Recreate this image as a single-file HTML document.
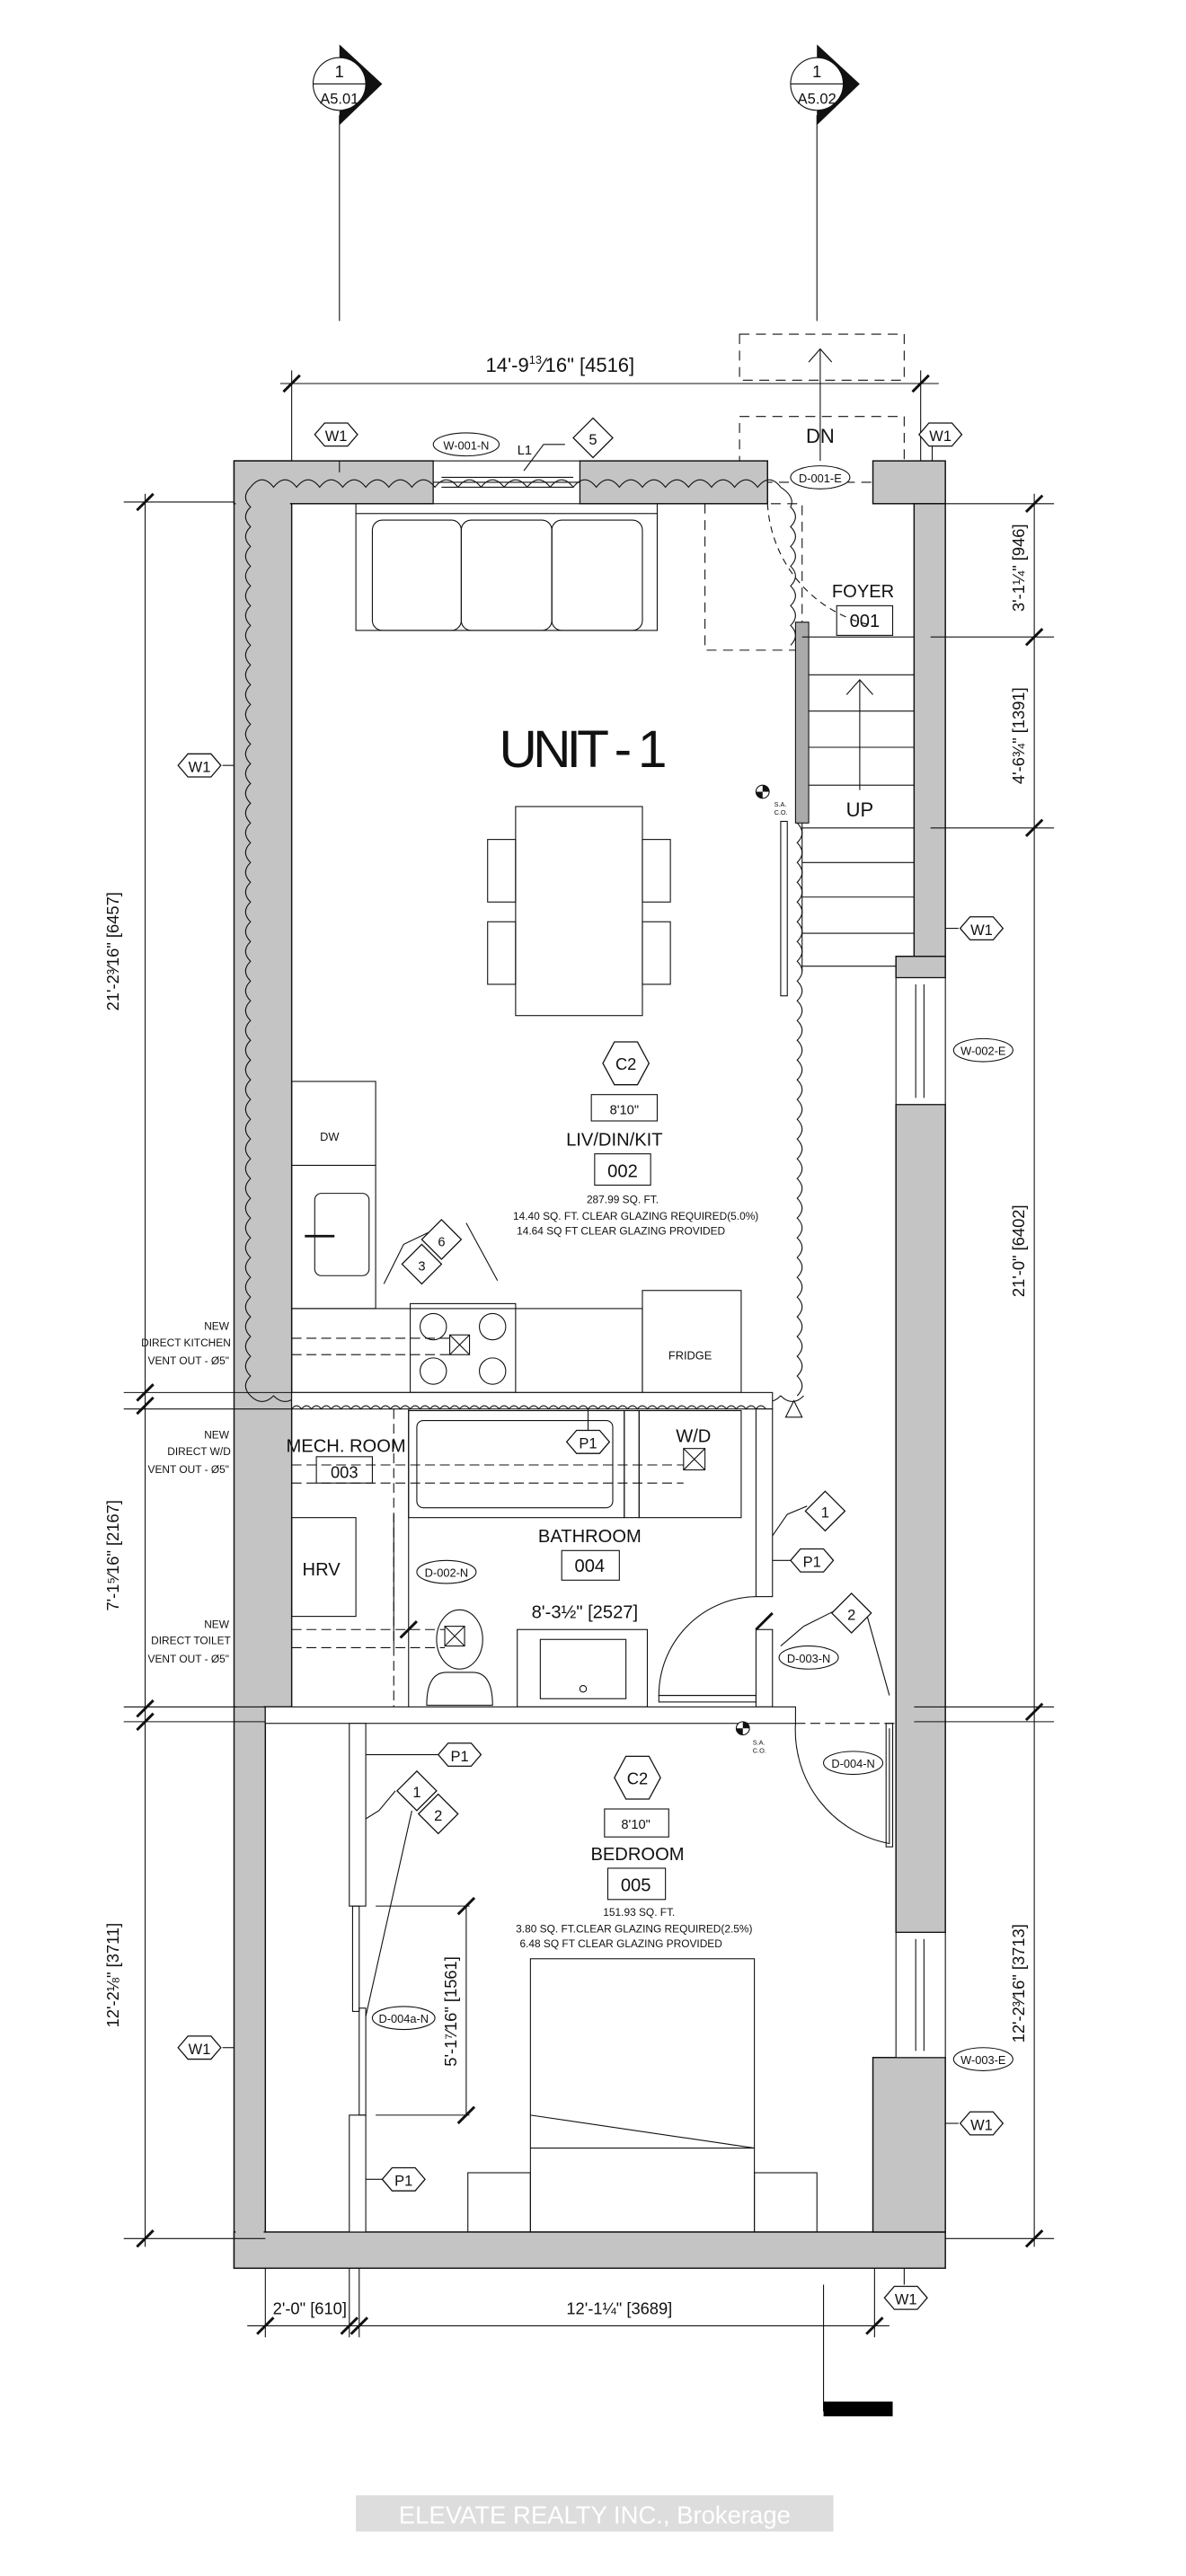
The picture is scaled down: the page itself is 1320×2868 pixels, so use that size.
<!DOCTYPE html>
<html><head><meta charset="utf-8"><style>
html,body{margin:0;padding:0;background:#fff}
svg{display:block}
text{font-family:"Liberation Sans",sans-serif;fill:#111}
</style></head><body>
<svg width="1320" height="2868" viewBox="0 0 720 1565" xmlns="http://www.w3.org/2000/svg">
<defs>
<path id="hex" d="M-13,0 L-7,-7 L7,-7 L13,0 L7,7 L-7,7 Z" fill="#fff" stroke="#111" stroke-width="0.7"/>
<path id="dia" d="M0,-12 L12,0 L0,12 L-12,0 Z" fill="#fff" stroke="#111" stroke-width="0.7"/>
<path id="tk" d="M-5,5 L5,-5" stroke="#111" stroke-width="1.6"/>
</defs>
<rect width="720" height="1565" fill="#fff"/>
<!-- section markers -->
<g stroke="#111" stroke-width="0.6">
<line x1="206" y1="70" x2="206" y2="195"/>
<line x1="496" y1="70" x2="496" y2="195"/>
</g>
<path d="M206,27 L232,51 L206,76 Z" fill="#111"/>
<path d="M496,27 L522,51 L496,76 Z" fill="#111"/>
<circle cx="206" cy="51" r="16" fill="#fff" stroke="#111" stroke-width="0.6"/>
<line x1="190" y1="51" x2="222" y2="51" stroke="#111" stroke-width="0.6"/>
<circle cx="496" cy="51" r="16" fill="#fff" stroke="#111" stroke-width="0.6"/>
<line x1="480" y1="51" x2="512" y2="51" stroke="#111" stroke-width="0.6"/>
<text x="206" y="47" font-size="10" text-anchor="middle">1</text>
<text x="206" y="63" font-size="9" text-anchor="middle">A5.01</text>
<text x="496" y="47" font-size="10" text-anchor="middle">1</text>
<text x="496" y="63" font-size="9" text-anchor="middle">A5.02</text>

<!-- top dimension -->
<g stroke="#111" stroke-width="0.6" fill="none">
<line x1="170" y1="233" x2="570" y2="233"/>
<line x1="177" y1="225" x2="177" y2="300"/>
<line x1="559" y1="225" x2="559" y2="300"/>
<g stroke-dasharray="6,4">
<rect x="449" y="203" width="100" height="28"/>
<rect x="449" y="253" width="100" height="40"/>
<line x1="449" y1="293" x2="449" y2="306"/>
<line x1="549" y1="293" x2="549" y2="306"/>
<rect x="428" y="306" width="59" height="89"/>
</g>
<line x1="498" y1="280" x2="498" y2="212"/>
<polyline points="491,220 498,212 505,220"/>
</g>
<use href="#tk" x="177" y="233"/><use href="#tk" x="559" y="233"/>
<text x="340" y="226" font-size="12" text-anchor="middle">14'-9<tspan font-size="7" dy="-5">13</tspan><tspan dy="5">⁄16" [4516]</tspan></text>
<text x="498" y="269" font-size="12" text-anchor="middle">DN</text>

<!-- walls -->
<g fill="#c4c4c4" stroke="#111" stroke-width="0.8">
<rect x="142" y="280" width="35" height="757"/>
<rect x="142" y="1037" width="19" height="341"/>
<rect x="142" y="280" width="121" height="26"/>
<rect x="352" y="280" width="114" height="26"/>
<rect x="142" y="1356" width="432" height="22"/>
<rect x="530" y="280" width="44" height="26"/>
<rect x="555" y="306" width="19" height="275"/>
<rect x="544" y="581" width="30" height="13"/>
<rect x="544" y="671" width="30" height="503"/>
<rect x="530" y="1250" width="44" height="106"/>
</g>
<rect x="143" y="283" width="33" height="753" fill="#c4c4c4"/>
<rect x="143" y="1036" width="17" height="338" fill="#c4c4c4"/>
<rect x="143" y="1357" width="430" height="20" fill="#c4c4c4"/>
<g stroke="#111" stroke-width="0.6" fill="none">
<rect x="263" y="280" width="89" height="26" fill="#fff"/>
<line x1="263" y1="293" x2="352" y2="293"/><line x1="268" y1="290" x2="348" y2="290"/><line x1="268" y1="296" x2="348" y2="296"/>
<rect x="544" y="594" width="30" height="77" fill="#fff"/>
<line x1="556" y1="598" x2="556" y2="667"/><line x1="561" y1="598" x2="561" y2="667"/>
<rect x="544" y="1174" width="30" height="76" fill="#fff"/>
<line x1="556" y1="1178" x2="556" y2="1246"/><line x1="561" y1="1178" x2="561" y2="1246"/>
<!-- revision cloud -->
<path d="M152,296 q7,-9 14,0 q7,-9 14,0 q7,-9 14,0 q7,-9 14,0 q7,-9 14,0 q7,-9 14,0 q7,-9 14,0 q7,-9 14,0 q7,-9 14,0 q7,-9 14,0 q7,-9 14,0 q7,-9 14,0 q7,-9 14,0 q7,-9 14,0 q7,-9 14,0 q7,-9 14,0 q7,-9 14,0 q7,-9 14,0 q7,-9 14,0 q7,-9 14,0 q7,-9 14,0 q7,-9 14,0 q7,-9 14,0"/>
<path d="M152,296 q-6,6 0,12 q-6,6 0,12 q-6,6 0,12 q-6,6 0,12 q-6,6 0,12 q-6,6 0,12 q-6,6 0,12 q-6,6 0,12 q-6,6 0,12 q-6,6 0,12 q-6,6 0,12 q-6,6 0,12 q-6,6 0,12 q-6,6 0,12 q-6,6 0,12 q-6,6 0,12 q-6,6 0,12 q-6,6 0,12 q-6,6 0,12 q-6,6 0,12 q-6,6 0,12 q-6,6 0,12 q-6,6 0,12 q-6,6 0,12 q-6,6 0,12 q-6,6 0,12 q-6,6 0,12 q-6,6 0,12 q-6,6 0,12 q-6,6 0,12 q-6,6 0,12 q-6,6 0,12 q-6,6 0,12 q-6,6 0,12 q-6,6 0,12 q-6,6 0,12 q-6,6 0,12 q-6,6 0,12 q-6,6 0,12 q-6,6 0,12 q-6,6 0,12 q-6,6 0,12 q-6,6 0,12 q-6,6 0,12 q-6,6 0,12 q-6,6 0,12 q7,7 14,0 q7,7 14,0 q7,7 14,0 q7,7 14,0 q7,7 14,0 q7,7 14,0 q7,7 14,0 q7,7 14,0 q7,7 14,0 q7,7 14,0 q7,7 14,0 q7,7 14,0 q7,7 14,0 q7,7 14,0 q7,7 14,0 q7,7 14,0 q7,7 14,0 q7,7 14,0 q7,7 14,0 q7,7 14,0 q7,7 14,0 q7,7 14,0 q7,7 14,0 q7,7 14,0"/>
<path d="M474,296 q9,6 6,12 q6,6 0,12 q6,6 0,12 q6,6 0,12 q6,6 0,12 q6,6 0,12 q6,6 0,12 q6,6 0,12 M484,500 q6,6 0,12 q6,6 0,12 q6,6 0,12 q6,6 0,12 q6,6 0,12 q6,6 0,12 q6,6 0,12 q6,6 0,12 q6,6 0,12 q6,6 0,12 q6,6 0,12 q6,6 0,12 q6,6 0,12 q6,6 0,12 q6,6 0,12 q6,6 0,12 q6,6 0,12 q6,6 0,12 q6,6 0,12 q6,6 0,12 q6,6 0,12 q6,6 0,12 q6,6 0,12 q6,6 0,12 q6,6 0,12 q6,6 0,12 q6,6 0,12 q6,6 0,12 q6,6 0,12"/>
<path d="M482,851 l5,10 h-10 z"/>
<path d="M466,306 A80,80 0 0 0 530,380" stroke-dasharray="4,3"/>
<!-- stairs -->
<rect x="483" y="378" width="8" height="122" fill="#aaa"/>
<line x1="487" y1="387" x2="555" y2="387"/>
<line x1="491" y1="410" x2="555" y2="410"/>
<line x1="491" y1="432" x2="555" y2="432"/>
<line x1="491" y1="454" x2="555" y2="454"/>
<line x1="491" y1="477" x2="555" y2="477"/>
<line x1="487" y1="503" x2="555" y2="503"/>
<line x1="487" y1="524" x2="555" y2="524"/>
<line x1="487" y1="545" x2="555" y2="545"/>
<line x1="487" y1="567" x2="555" y2="567"/>
<line x1="487" y1="587" x2="544" y2="587"/>
<line x1="487" y1="500" x2="487" y2="590"/>
<rect x="474" y="499" width="4" height="106"/>
<line x1="522" y1="480" x2="522" y2="413"/><polyline points="514,422 522,413 530,422"/>
<!-- sofa -->
<rect x="216" y="312" width="183" height="71"/>
<rect x="226" y="316" width="54" height="67" rx="6"/>
<rect x="280" y="316" width="55" height="67" rx="6"/>
<rect x="335" y="316" width="55" height="67" rx="6"/>
<line x1="216" y1="306" x2="216" y2="312"/><line x1="399" y1="306" x2="399" y2="312"/>
<!-- table -->
<rect x="313" y="490" width="77" height="127"/>
<rect x="296" y="510" width="17" height="38"/><rect x="296" y="560" width="17" height="38"/>
<rect x="390" y="510" width="17" height="38"/><rect x="390" y="560" width="17" height="38"/>
<!-- kitchen -->
<rect x="177" y="657" width="51" height="138"/>
<line x1="177" y1="708" x2="228" y2="708"/>
<rect x="191" y="725" width="33" height="50" rx="4"/>
<line x1="185" y1="751" x2="203" y2="751" stroke-width="1.5"/>
<rect x="177" y="795" width="213" height="51"/>
<rect x="249" y="792" width="64" height="54"/>
<circle cx="263" cy="806" r="8"/><circle cx="299" cy="806" r="8"/>
<circle cx="263" cy="833" r="8"/><circle cx="299" cy="833" r="8"/>
<rect x="273" y="811" width="12" height="12"/><path d="M273,811 l12,12 M285,811 l-12,12"/>
<rect x="390" y="784" width="60" height="62"/>
<path d="M177,813 H273 M177,823 H273" stroke-dasharray="6,3"/>
<!-- bath/kitchen partition -->
<rect x="177" y="846" width="292" height="10" fill="#fff"/>
<path d="M177,856 q3,-4 6,0 q3,-4 6,0 q3,-4 6,0 q3,-4 6,0 q3,-4 6,0 q3,-4 6,0 q3,-4 6,0 q3,-4 6,0 q3,-4 6,0 q3,-4 6,0 q3,-4 6,0 q3,-4 6,0 q3,-4 6,0 q3,-4 6,0 q3,-4 6,0 q3,-4 6,0 q3,-4 6,0 q3,-4 6,0 q3,-4 6,0 q3,-4 6,0 q3,-4 6,0 q3,-4 6,0 q3,-4 6,0 q3,-4 6,0 q3,-4 6,0 q3,-4 6,0 q3,-4 6,0 q3,-4 6,0 q3,-4 6,0 q3,-4 6,0 q3,-4 6,0 q3,-4 6,0 q3,-4 6,0 q3,-4 6,0 q3,-4 6,0 q3,-4 6,0 q3,-4 6,0 q3,-4 6,0 q3,-4 6,0 q3,-4 6,0 q3,-4 6,0 q3,-4 6,0 q3,-4 6,0 q3,-4 6,0 q3,-4 6,0 q3,-4 6,0 q3,-4 6,0 q3,-4 6,0"/>
<!-- bathroom -->
<rect x="459" y="856" width="10" height="114" fill="#fff"/>
<rect x="459" y="990" width="10" height="47" fill="#fff"/>
<line x1="239" y1="856" x2="239" y2="1037" stroke-dasharray="6,3"/>
<line x1="248" y1="856" x2="248" y2="1037"/>
<line x1="239" y1="920" x2="239" y2="1000"/>
<rect x="248" y="857" width="131" height="65"/>
<rect x="253" y="863" width="119" height="53" rx="4"/>
<rect x="379" y="857" width="9" height="65"/>
<rect x="388" y="857" width="62" height="65"/>
<rect x="415" y="880" width="13" height="13"/><path d="M415,880 l13,13 M428,880 l-13,13"/>
<path d="M177,890 H415 M177,901 H415" stroke-dasharray="6,3"/>
<rect x="177" y="922" width="39" height="60"/>
<ellipse cx="279" cy="996" rx="14" ry="18"/>
<rect x="270" y="988" width="12" height="12"/><path d="M270,988 l12,12 M282,988 l-12,12"/>
<path d="M259,1036 q0,-20 12,-20 h16 q12,0 12,20 z"/>
<path d="M177,990 H270 M177,1001 H270" stroke-dasharray="6,3"/>
<rect x="314" y="990" width="79" height="47"/><rect x="328" y="996" width="52" height="36"/>
<circle cx="354" cy="1026" r="2"/>
<path d="M459,970 A60,60 0 0 0 400,1030 L459,1030"/>
<rect x="400" y="1030" width="59" height="4"/>
<!-- bedroom -->
<rect x="161" y="1037" width="322" height="10" fill="#fff"/>
<rect x="212" y="1047" width="10" height="111" fill="#fff"/>
<rect x="212" y="1285" width="10" height="71" fill="#fff"/>
<rect x="214" y="1158" width="4" height="64"/><rect x="218" y="1220" width="4" height="65"/>
<path d="M483,1047 H544" stroke-dasharray="6,3"/>
<path d="M540,1050 V1120 A70,70 0 0 1 483,1047"/>
<rect x="538" y="1047" width="4" height="75"/>
<rect x="322" y="1190" width="136" height="166"/>
<line x1="322" y1="1285" x2="458" y2="1305"/>
<line x1="322" y1="1305" x2="458" y2="1305"/>
<rect x="284" y="1320" width="38" height="36"/><rect x="458" y="1320" width="38" height="36"/>
<line x1="283" y1="1158" x2="283" y2="1285"/>
<line x1="228" y1="1158" x2="285" y2="1158"/><line x1="228" y1="1285" x2="285" y2="1285"/>
<!-- left dims -->
<line x1="88" y1="300" x2="88" y2="1365"/>
<line x1="75" y1="305" x2="142" y2="305"/><line x1="75" y1="846" x2="177" y2="846"/><line x1="75" y1="856" x2="177" y2="856"/>
<line x1="75" y1="1037" x2="161" y2="1037"/><line x1="75" y1="1046" x2="161" y2="1046"/><line x1="75" y1="1360" x2="161" y2="1360"/>
<!-- right dims -->
<line x1="628" y1="300" x2="628" y2="1365"/>
<line x1="574" y1="306" x2="640" y2="306"/><line x1="565" y1="387" x2="640" y2="387"/><line x1="565" y1="503" x2="640" y2="503"/>
<line x1="555" y1="1037" x2="640" y2="1037"/><line x1="555" y1="1046" x2="640" y2="1046"/><line x1="574" y1="1360" x2="640" y2="1360"/>
<!-- bottom dims -->
<line x1="150" y1="1413" x2="540" y2="1413"/>
<line x1="161" y1="1378" x2="161" y2="1420"/><line x1="212" y1="1378" x2="212" y2="1420"/><line x1="218" y1="1378" x2="218" y2="1420"/><line x1="531" y1="1378" x2="531" y2="1420"/>
<line x1="500" y1="1388" x2="500" y2="1465"/>
<!-- leaders -->
<line x1="206" y1="287" x2="206" y2="280"/><line x1="566" y1="271" x2="566" y2="280"/>
<line x1="135" y1="465" x2="142" y2="465"/><line x1="574" y1="564" x2="582" y2="564"/>
<line x1="135" y1="1244" x2="142" y2="1244"/><line x1="574" y1="1290" x2="582" y2="1290"/><line x1="549" y1="1378" x2="549" y2="1388"/>
<line x1="469" y1="948" x2="480" y2="948"/><line x1="222" y1="1066" x2="268" y2="1066"/><line x1="222" y1="1324" x2="232" y2="1324"/>
<line x1="357" y1="856" x2="357" y2="876"/>
<polyline points="343,270 330,270 318,286"/><polyline points="268,745 245,756 233,780"/><polyline points="283,743 302,778"/>
<polyline points="490,915 478,920 469,933"/><polyline points="510,977 488,988 474,1000"/><polyline points="526,980 540,1030"/>
<polyline points="240,1088 230,1100 222,1105"/><polyline points="250,1100 222,1225"/>
</g>
<use href="#tk" x="88" y="305"/><use href="#tk" x="88" y="846"/><use href="#tk" x="88" y="854"/><use href="#tk" x="88" y="1038"/><use href="#tk" x="88" y="1046"/><use href="#tk" x="88" y="1360"/>
<use href="#tk" x="628" y="306"/><use href="#tk" x="628" y="387"/><use href="#tk" x="628" y="503"/><use href="#tk" x="628" y="1040"/><use href="#tk" x="628" y="1360"/>
<use href="#tk" x="161" y="1413"/><use href="#tk" x="212" y="1413"/><use href="#tk" x="218" y="1413"/><use href="#tk" x="531" y="1413"/>
<use href="#tk" x="283" y="1158"/><use href="#tk" x="283" y="1285"/><use href="#tk" x="464" y="985"/><use href="#tk" x="248" y="990"/>
<use href="#hex" x="204" y="264"/><text x="204" y="268" font-size="9" text-anchor="middle">W1</text>
<use href="#hex" x="571" y="264"/><text x="571" y="268" font-size="9" text-anchor="middle">W1</text>
<use href="#hex" x="121" y="465"/><text x="121" y="469" font-size="9" text-anchor="middle">W1</text>
<use href="#hex" x="596" y="564"/><text x="596" y="568" font-size="9" text-anchor="middle">W1</text>
<use href="#hex" x="121" y="1244"/><text x="121" y="1248" font-size="9" text-anchor="middle">W1</text>
<use href="#hex" x="596" y="1290"/><text x="596" y="1294" font-size="9" text-anchor="middle">W1</text>
<use href="#hex" x="550" y="1396"/><text x="550" y="1400" font-size="9" text-anchor="middle">W1</text>
<use href="#hex" x="357" y="876"/><text x="357" y="880" font-size="9" text-anchor="middle">P1</text>
<use href="#hex" x="493" y="948"/><text x="493" y="952" font-size="9" text-anchor="middle">P1</text>
<use href="#hex" x="279" y="1066"/><text x="279" y="1070" font-size="9" text-anchor="middle">P1</text>
<use href="#hex" x="245" y="1324"/><text x="245" y="1328" font-size="9" text-anchor="middle">P1</text>
<g stroke="#111" stroke-width="0.7" fill="#fff">
<path d="M366,646 L373,633 L387,633 L394,646 L387,659 L373,659 Z"/>
<path d="M373,1080 L380,1067 L394,1067 L401,1080 L394,1093 L380,1093 Z"/>
</g>
<text x="380" y="650" font-size="10" text-anchor="middle">C2</text>
<text x="387" y="1084" font-size="10" text-anchor="middle">C2</text>
<use href="#dia" x="360" y="266"/><text x="360" y="270" font-size="9" text-anchor="middle">5</text>
<use href="#dia" x="268" y="753"/><text x="268" y="757" font-size="8" text-anchor="middle">6</text>
<use href="#dia" x="256" y="768"/><text x="256" y="772" font-size="8" text-anchor="middle">3</text>
<use href="#dia" x="501" y="918"/><text x="501" y="922" font-size="9" text-anchor="middle">1</text>
<use href="#dia" x="517" y="980"/><text x="517" y="984" font-size="9" text-anchor="middle">2</text>
<use href="#dia" x="253" y="1088"/><text x="253" y="1092" font-size="9" text-anchor="middle">1</text>
<use href="#dia" x="266" y="1102"/><text x="266" y="1106" font-size="9" text-anchor="middle">2</text>
<g stroke="#111" stroke-width="0.6" fill="#fff">
<ellipse cx="283" cy="270" rx="20" ry="7"/>
<ellipse cx="498" cy="290" rx="18" ry="7"/>
<ellipse cx="597" cy="638" rx="18" ry="7"/>
<ellipse cx="271" cy="955" rx="18" ry="7"/>
<ellipse cx="491" cy="1007" rx="18" ry="7"/>
<ellipse cx="518" cy="1071" rx="18" ry="7"/>
<ellipse cx="245" cy="1226" rx="19" ry="7"/>
<ellipse cx="597" cy="1251" rx="18" ry="7"/>
</g>
<g font-size="7" text-anchor="middle">
<text x="283" y="273">W-001-N</text><text x="498" y="293">D-001-E</text><text x="597" y="641">W-002-E</text>
<text x="271" y="958">D-002-N</text><text x="491" y="1010">D-003-N</text><text x="518" y="1074">D-004-N</text>
<text x="245" y="1229">D-004a-N</text><text x="597" y="1254">W-003-E</text>
</g>
<text x="314" y="276" font-size="8">L1</text>
<g stroke="#111" stroke-width="0.6"><circle cx="463" cy="481" r="4" fill="#fff"/><circle cx="451" cy="1050" r="4" fill="#fff"/></g>
<path d="M463,477 a4,4 0 0 1 4,4 h-4z M463,485 a4,4 0 0 1 -4,-4 h4z" fill="#111"/>
<path d="M451,1046 a4,4 0 0 1 4,4 h-4z M451,1054 a4,4 0 0 1 -4,-4 h4z" fill="#111"/>
<text x="470" y="490" font-size="4">S.A.</text><text x="470" y="495" font-size="4">C.O.</text>
<text x="457" y="1060" font-size="4">S.A.</text><text x="457" y="1065" font-size="4">C.O.</text>
<text x="354" y="466" font-size="32" text-anchor="middle" textLength="102">UNIT - 1</text>
<text x="524" y="363" font-size="11" text-anchor="middle">FOYER</text>
<rect x="508" y="368" width="34" height="18" fill="none" stroke="#111" stroke-width="0.6"/>
<text x="525" y="381" font-size="11" text-anchor="middle">001</text>
<text x="522" y="496" font-size="12" text-anchor="middle">UP</text>
<rect x="359" y="665" width="40" height="16" fill="none" stroke="#111" stroke-width="0.6"/>
<text x="379" y="677" font-size="8" text-anchor="middle">8'10"</text>
<text x="373" y="696" font-size="11" text-anchor="middle">LIV/DIN/KIT</text>
<rect x="361" y="701" width="34" height="19" fill="none" stroke="#111" stroke-width="0.6"/>
<text x="378" y="715" font-size="11" text-anchor="middle">002</text>
<g font-size="6.5" text-anchor="middle">
<text x="378" y="731">287.99 SQ. FT.</text>
<text x="386" y="741">14.40 SQ. FT. CLEAR GLAZING REQUIRED(5.0%)</text>
<text x="377" y="750">14.64 SQ FT CLEAR GLAZING PROVIDED</text>
</g>
<text x="200" y="693" font-size="7" text-anchor="middle">DW</text>
<text x="419" y="826" font-size="7" text-anchor="middle">FRIDGE</text>
<g font-size="6.5" text-anchor="end">
<text x="139" y="808">NEW</text><text x="140" y="818">DIRECT KITCHEN</text><text x="139" y="829">VENT OUT - Ø5"</text>
<text x="139" y="874">NEW</text><text x="140" y="884">DIRECT W/D</text><text x="139" y="895">VENT OUT - Ø5"</text>
<text x="139" y="989">NEW</text><text x="140" y="999">DIRECT TOILET</text><text x="139" y="1010">VENT OUT - Ø5"</text>
</g>
<text x="210" y="882" font-size="11" text-anchor="middle">MECH. ROOM</text>
<rect x="192" y="885" width="34" height="16" fill="none" stroke="#111" stroke-width="0.6"/>
<text x="209" y="898" font-size="10" text-anchor="middle">003</text>
<text x="421" y="876" font-size="11" text-anchor="middle">W/D</text>
<text x="195" y="957" font-size="11" text-anchor="middle">HRV</text>
<text x="358" y="937" font-size="11" text-anchor="middle">BATHROOM</text>
<rect x="341" y="942" width="35" height="18" fill="none" stroke="#111" stroke-width="0.6"/>
<text x="358" y="955" font-size="11" text-anchor="middle">004</text>
<text x="355" y="983" font-size="11" text-anchor="middle">8'-3½" [2527]</text>
<rect x="367" y="1099" width="39" height="17" fill="none" stroke="#111" stroke-width="0.6"/>
<text x="386" y="1111" font-size="8" text-anchor="middle">8'10"</text>
<text x="387" y="1130" font-size="11" text-anchor="middle">BEDROOM</text>
<rect x="369" y="1135" width="35" height="19" fill="none" stroke="#111" stroke-width="0.6"/>
<text x="386" y="1149" font-size="11" text-anchor="middle">005</text>
<g font-size="6.5" text-anchor="middle">
<text x="388" y="1164">151.93 SQ. FT.</text>
<text x="385" y="1174">3.80 SQ. FT.CLEAR GLAZING REQUIRED(2.5%)</text>
<text x="377" y="1183">6.48 SQ FT CLEAR GLAZING PROVIDED</text>
</g>
<g font-size="10" text-anchor="middle">
<text transform="translate(72,578) rotate(-90)">21'-2³⁄16" [6457]</text>
<text transform="translate(72,945) rotate(-90)">7'-1⁵⁄16" [2167]</text>
<text transform="translate(72,1200) rotate(-90)">12'-2⅛" [3711]</text>
<text transform="translate(622,345) rotate(-90)">3'-1¼" [946]</text>
<text transform="translate(622,447) rotate(-90)">4'-6¾" [1391]</text>
<text transform="translate(622,760) rotate(-90)">21'-0" [6402]</text>
<text transform="translate(622,1205) rotate(-90)">12'-2³⁄16" [3713]</text>
<text transform="translate(277,1222) rotate(-90)">5'-1⁷⁄16" [1561]</text>
<text x="188" y="1406">2'-0" [610]</text>
<text x="376" y="1406">12'-1¼" [3689]</text>
</g>
<rect x="500" y="1459" width="42" height="9" fill="#000"/>
<rect x="216" y="1516" width="290" height="22" fill="#ddd"/>
<text x="361" y="1533" font-size="15" text-anchor="middle" style="fill:#fff">ELEVATE REALTY INC., Brokerage</text>
</svg>
</body></html>
